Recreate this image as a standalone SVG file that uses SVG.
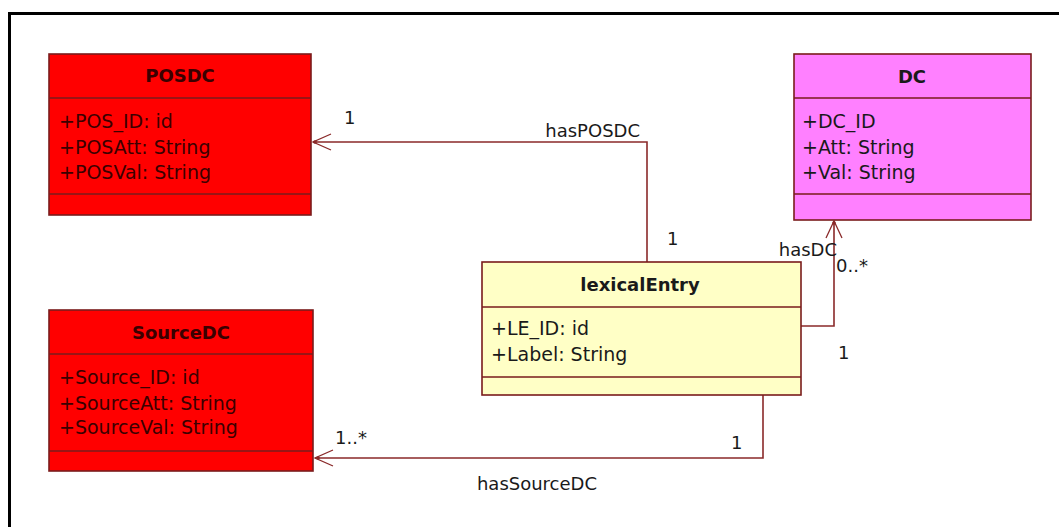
<svg xmlns="http://www.w3.org/2000/svg" width="1059" height="527" viewBox="0 0 1059 527">
<defs>
<style>
.frame{fill:none;stroke:#000;stroke-width:3}
.box{stroke:#7a1c1c;stroke-width:1.6}
.red{fill:#ff0000}
.mag{fill:#ff80ff}
.yel{fill:#ffffc6}
.div{stroke:#7a1c1c;stroke-width:1.4;fill:none}
.t{font-family:"DejaVu Sans",Verdana,sans-serif;font-size:19px;fill:#1a1a1a}
.tr{fill:#3a0000}
.b{font-weight:bold;text-anchor:middle;font-size:18px}
.conn{fill:none;stroke:#8a2a2a;stroke-width:1.6}
.ah{fill:none;stroke:#8a2a2a;stroke-width:1.3}
.lbl{font-family:"DejaVu Sans",Verdana,sans-serif;font-size:18px;fill:#1a1a1a}
</style>
</defs>
<rect width="1059" height="527" fill="#fff"/>
<path class="frame" d="M9.5 527 V13.5 H1059"/>

<g id="connectors">
<path class="conn" d="M647 262 V142 H313"/>
<path class="ah" d="M331 134 L313 142 L331 150"/>
<circle cx="315" cy="142" r="1.8" fill="#8a2a2a"/>
<path class="conn" d="M801 326 H834 V221"/>
<path class="ah" d="M826 238 L834 221 L842 238"/>
<circle cx="834" cy="223" r="1.8" fill="#8a2a2a"/>
<path class="conn" d="M763 395 V458 H315"/>
<path class="ah" d="M333 450 L315 458 L333 466"/>
<circle cx="318" cy="458" r="1.8" fill="#8a2a2a"/>
<text class="lbl" x="640" y="137" text-anchor="end">hasPOSDC</text>
<text class="lbl" x="344" y="124">1</text>
<text class="lbl" x="667" y="245">1</text>
<text class="lbl" x="837" y="256" text-anchor="end">hasDC</text>
<text class="lbl" x="836" y="272">0..*</text>
<text class="lbl" x="838" y="359">1</text>
<text class="lbl" x="335" y="444">1..*</text>
<text class="lbl" x="731" y="449">1</text>
<text class="lbl" x="537" y="490" text-anchor="middle">hasSourceDC</text>
</g>

<g id="POSDC">
<rect class="box red" x="49" y="54" width="262" height="161"/>
<path class="div" d="M49 98 H311 M49 194 H311"/>
<text class="t tr b" x="180" y="82">POSDC</text>
<text class="t tr" x="59" y="128">+POS_ID: id</text>
<text class="t tr" x="59" y="154">+POSAtt: String</text>
<text class="t tr" x="59" y="179">+POSVal: String</text>
</g>

<g id="DC">
<rect class="box mag" x="794" y="54" width="237" height="166"/>
<path class="div" d="M794 98 H1031 M794 194 H1031"/>
<text class="t b" x="912" y="83">DC</text>
<text class="t" x="802" y="128">+DC_ID</text>
<text class="t" x="802" y="154">+Att: String</text>
<text class="t" x="802" y="179">+Val: String</text>
</g>

<g id="SourceDC">
<rect class="box red" x="49" y="310" width="264" height="161"/>
<path class="div" d="M49 354 H313 M49 451 H313"/>
<text class="t tr b" x="181" y="339">SourceDC</text>
<text class="t tr" x="59" y="384">+Source_ID: id</text>
<text class="t tr" x="59" y="410">+SourceAtt: String</text>
<text class="t tr" x="59" y="434">+SourceVal: String</text>
</g>

<g id="lexicalEntry">
<rect class="box yel" x="482" y="262" width="319" height="133"/>
<path class="div" d="M482 307 H801 M482 377 H801"/>
<text class="t b" x="640" y="291">lexicalEntry</text>
<text class="t" x="491" y="335">+LE_ID: id</text>
<text class="t" x="491" y="361">+Label: String</text>
</g>
</svg>
